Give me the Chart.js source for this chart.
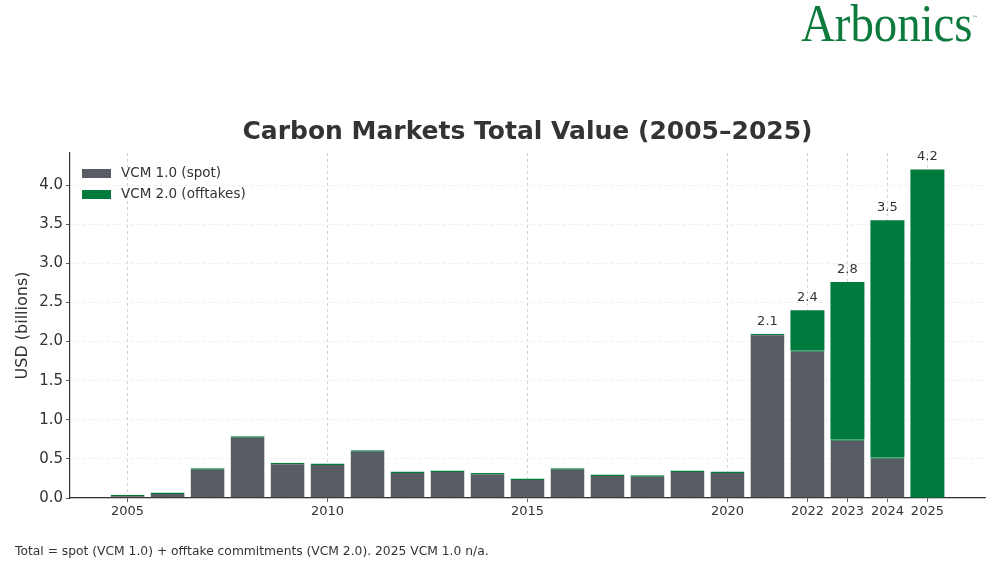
<!DOCTYPE html>
<html>
<head>
<meta charset="utf-8">
<script src="https://cdn.jsdelivr.net/npm/chart.js@4.4.1/dist/chart.umd.min.js"></script>
<style>
  body { margin: 0; background: #fff; font-family: "DejaVu Sans", sans-serif; }
  #wrap { position: relative; width: 1000px; height: 562px; overflow: hidden; }
  #chart { position: absolute; left: 0; top: 0; }
  .logo { position: absolute; left: 801px; top: -6px; font-family: "Liberation Serif", serif; font-size: 52px; color: #0c7a3c; transform: scaleX(0.9); transform-origin: left top; }
  .tm { position: absolute; left: 972px; top: 14px; font-size: 6px; color: #0c7a3c; }
  .title { position: absolute; left: 70px; width: 915px; top: 116px; text-align: center; font-weight: bold; font-size: 25px; color: #333; }
  .legend { position: absolute; left: 82px; top: 162px; font-size: 13.5px; color: #333; }
  .legend div { height: 21px; line-height: 21px; }
  .legend span.box { display: inline-block; width: 29px; height: 9px; margin-right: 10px; vertical-align: -1px; }
  .foot { position: absolute; left: 15px; top: 544px; font-size: 12.3px; color: #333; }
</style>
</head>
<body>
<div id="wrap">
  <canvas id="chart" width="1000" height="562"></canvas>
  <div class="logo">Arbonics</div>
  <div class="tm">™</div>
  <div class="title">Carbon Markets Total Value (2005–2025)</div>
  <div class="legend">
    <div><span class="box" style="background:#585c64"></span>VCM 1.0 (spot)</div>
    <div><span class="box" style="background:#007a3d"></span>VCM 2.0 (offtakes)</div>
  </div>
  <div class="foot">Total = spot (VCM 1.0) + offtake commitments (VCM 2.0). 2025 VCM 1.0 n/a.</div>
</div>
<script>
const years = [2005, 2006, 2007, 2008, 2009, 2010, 2011, 2012, 2013, 2014, 2015, 2016, 2017, 2018, 2019, 2020, 2021, 2022, 2023, 2024, 2025];
const spot = [0.04, 0.07, 0.38, 0.79, 0.45, 0.44, 0.61, 0.34, 0.35, 0.32, 0.25, 0.38, 0.30, 0.29, 0.35, 0.34, 2.10, 1.89, 0.75, 0.52, null];
const offtakes = [0, 0, 0, 0, 0, 0, 0, 0, 0, 0, 0, 0, 0, 0, 0, 0, 0, 0.51, 2.01, 3.03, 4.20];
const tickYears = [2005, 2010, 2015, 2020, 2022, 2023, 2024, 2025];
const labelYears = [2021, 2022, 2023, 2024, 2025];
const labelText = ['2.1', '2.4', '2.8', '3.5', '4.2'];
const yTicks = [0, 0.5, 1.0, 1.5, 2.0, 2.5, 3.0, 3.5, 4.0];

const ctx = document.getElementById('chart');

// total value written above the last bars
const totalLabels = {
  id: 'totalLabels',
  afterDatasetsDraw(chart) {
    const c = chart.ctx;
    const xs = chart.scales.x, ys = chart.scales.y;
    c.save();
    c.font = '13px "DejaVu Sans"';
    c.fillStyle = '#333';
    c.textAlign = 'center';
    c.textBaseline = 'bottom';
    for (let i = 0; i < labelYears.length; i++) {
      const k = years.indexOf(labelYears[i]);
      const total = (spot[k] || 0) + offtakes[k];
      c.fillText(labelText[i], xs.getPixelForValue(labelYears[i]), ys.getPixelForValue(total) - 6);
    }
    c.restore();
  }
};

new Chart(ctx, {
  type: 'bar',
  data: {
    datasets: [{
      label: 'VCM 1.0 (spot)',
      data: years.map((y, i) => ({x: y, y: spot[i]})),
      backgroundColor: '#585c64',
      // thin green cap where the offtake segment is empty
      borderColor: '#007a3d',
      borderWidth: { top: 1.5, left: 0, right: 0, bottom: 0 },
      borderSkipped: false,
      barPercentage: 0.85,
      categoryPercentage: 1
    }, {
      label: 'VCM 2.0 (offtakes)',
      data: years.map((y, i) => ({x: y, y: offtakes[i]})),
      backgroundColor: '#007a3d',
      barPercentage: 0.85,
      categoryPercentage: 1
    }]
  },
  options: {
    responsive: false,
    animation: false,
    layout: { padding: { top: 153, left: 0, right: 15, bottom: 34 } },
    plugins: { legend: { display: false }, tooltip: { enabled: false } },
    scales: {
      x: {
        type: 'linear',
        stacked: true,
        offset: false,
        min: 2003.56,
        max: 2026.44,
        afterBuildTicks: s => { s.ticks = tickYears.map(v => ({value: v})); },
        afterFit: s => { s.height = 30; },
        ticks: {
          autoSkip: false,
          maxRotation: 0,
          padding: 2,
          color: '#333',
          font: { family: 'DejaVu Sans', size: 13 },
          callback: v => String(v)
        },
        grid: { offset: false, color: '#c8c8c8', lineWidth: 0.8, tickLength: 4, tickColor: '#333' },
        border: { color: '#333', width: 1.2, dash: [3, 3] }
      },
      y: {
        stacked: true,
        min: 0,
        max: 4.41,
        afterBuildTicks: s => { s.ticks = yTicks.map(v => ({value: v})); },
        afterFit: s => { s.width = 70; },
        ticks: {
          padding: 3,
          color: '#333',
          font: { family: 'DejaVu Sans', size: 15 },
          callback: v => v.toFixed(1)
        },
        grid: { color: '#ebebeb', lineWidth: 0.8, tickLength: 4, tickColor: '#333' },
        border: { color: '#333', width: 1.2, dash: [3, 3] },
        title: {
          display: true,
          text: 'USD (billions)',
          color: '#333',
          font: { family: 'DejaVu Sans', size: 16 },
          padding: { top: 13, bottom: 0 }
        }
      }
    }
  },
  plugins: [totalLabels]
});
</script>
</body>
</html>
